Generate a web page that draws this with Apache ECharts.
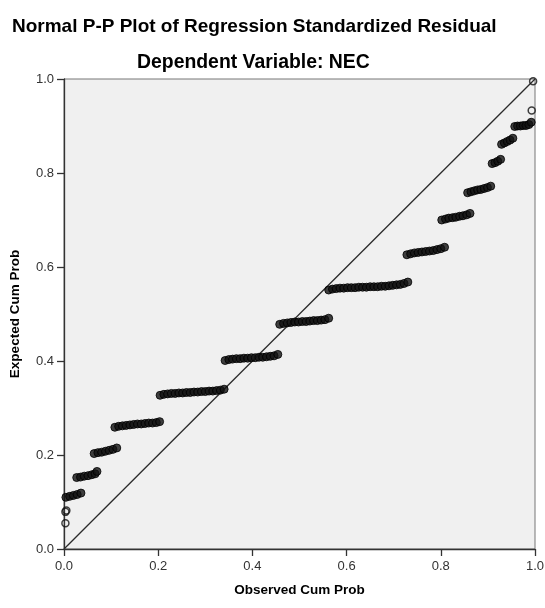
<!DOCTYPE html>
<html>
<head>
<meta charset="utf-8">
<title>Normal P-P Plot</title>
<script src="https://cdn.jsdelivr.net/npm/echarts@6/dist/echarts.min.js"></script>
<style>
    html, body {margin: 0; padding: 0; background: #ffffff;}
    #ppPlot {width: 545px; height: 608px;}
</style>
</head>
<body>
<div id="ppPlot"></div>
<script>
// tick labels on both axes
var tickValues = [0.0, 0.2, 0.4, 0.6, 0.8, 1.0];
// reference diagonal
var diagonal = [[0, 0], [1, 1]];
// single, clearly separate (hollow looking) points
var loosePoints = [[0.003, 0.055], [0.003, 0.079], [0.005, 0.082], [0.993, 0.933], [0.996, 0.995]];
// dense runs of points, [observed, expected]
var run1 = [[0.004, 0.110], [0.012, 0.112], [0.020, 0.114], [0.028, 0.116], [0.036, 0.119]];
var run2 = [[0.027, 0.152], [0.035, 0.153], [0.043, 0.155], [0.051, 0.156], [0.059, 0.158], [0.066, 0.160], [0.070, 0.165]];
var run3 = [[0.064, 0.203], [0.072, 0.205], [0.080, 0.206], [0.088, 0.208], [0.096, 0.210], [0.104, 0.212], [0.112, 0.215]];
var run4 = [[0.108, 0.259], [0.116, 0.261], [0.124, 0.262], [0.132, 0.263], [0.140, 0.264], [0.148, 0.265], [0.156, 0.266],
    [0.164, 0.266], [0.172, 0.267], [0.180, 0.268], [0.188, 0.268], [0.196, 0.269], [0.203, 0.271]];
var run5 = [[0.204, 0.327], [0.212, 0.329], [0.220, 0.330], [0.228, 0.331], [0.236, 0.331], [0.244, 0.332], [0.252, 0.332],
    [0.260, 0.333], [0.268, 0.333], [0.276, 0.334], [0.284, 0.334], [0.292, 0.335], [0.300, 0.335], [0.308, 0.336],
    [0.316, 0.336], [0.324, 0.337], [0.332, 0.338], [0.340, 0.340]];
var run6 = [[0.342, 0.401], [0.350, 0.403], [0.358, 0.404], [0.366, 0.405], [0.374, 0.405], [0.382, 0.406], [0.390, 0.406],
    [0.398, 0.407], [0.406, 0.407], [0.414, 0.408], [0.422, 0.408], [0.430, 0.409], [0.438, 0.410], [0.446, 0.411], [0.454, 0.414]];
var run7 = [[0.458, 0.478], [0.466, 0.480], [0.474, 0.481], [0.482, 0.482], [0.490, 0.483], [0.498, 0.483], [0.506, 0.484],
    [0.514, 0.484], [0.522, 0.485], [0.530, 0.486], [0.538, 0.486], [0.546, 0.487], [0.554, 0.488], [0.562, 0.491]];
var run8 = [[0.562, 0.551], [0.570, 0.553], [0.578, 0.554], [0.586, 0.555], [0.594, 0.555], [0.602, 0.556], [0.610, 0.556],
    [0.618, 0.556], [0.626, 0.557], [0.634, 0.557], [0.642, 0.557], [0.650, 0.558], [0.658, 0.558], [0.666, 0.558],
    [0.674, 0.559], [0.682, 0.559], [0.690, 0.560], [0.698, 0.561], [0.706, 0.562], [0.714, 0.563], [0.722, 0.565], [0.730, 0.568]];
var run9 = [[0.728, 0.626], [0.736, 0.628], [0.744, 0.630], [0.752, 0.631], [0.760, 0.632], [0.768, 0.633], [0.776, 0.634],
    [0.784, 0.635], [0.792, 0.637], [0.800, 0.639], [0.808, 0.642]];
var run10 = [[0.802, 0.700], [0.810, 0.702], [0.817, 0.704], [0.825, 0.705], [0.832, 0.706], [0.840, 0.708], [0.847, 0.709],
    [0.855, 0.711], [0.862, 0.714]];
var run11 = [[0.857, 0.758], [0.864, 0.760], [0.871, 0.762], [0.878, 0.764], [0.885, 0.765], [0.892, 0.767], [0.899, 0.769], [0.906, 0.772]];
var run12 = [[0.909, 0.820], [0.915, 0.822], [0.921, 0.825], [0.927, 0.829]];
var run13 = [[0.929, 0.861], [0.935, 0.864], [0.941, 0.867], [0.947, 0.870], [0.953, 0.874]];
var run14 = [[0.957, 0.899], [0.963, 0.900], [0.969, 0.900], [0.975, 0.901], [0.981, 0.901], [0.987, 0.903], [0.992, 0.908]];

var denseRuns = [run1, run2, run3, run4, run5, run6, run7, run8, run9, run10, run11, run12, run13, run14];

PPPlot = {
    chart: null,
    font: '"Liberation Sans", Arial, sans-serif'
};

PPPlot.axis = function (name, gap, labelMargin) {
    return {
        type: 'value',
        min: 0,
        max: 1,
        interval: 0.2,
        name: name,
        nameLocation: 'middle',
        nameGap: gap,
        nameTextStyle: {color: '#000', fontSize: 13.5, fontWeight: 'bold', fontFamily: PPPlot.font},
        axisLine: {show: true, lineStyle: {color: '#333', width: 1.3}},
        axisTick: {show: true, length: 7, lineStyle: {color: '#333', width: 1.3}},
        axisLabel: {
            color: '#333', fontSize: 13, fontFamily: PPPlot.font, margin: labelMargin,
            formatter: function (v) {
                return tickValues.indexOf(Math.round(v * 10) / 10) >= 0 ? v.toFixed(1) : '';
            }
        },
        splitLine: {show: false}
    };
};

PPPlot.init = function () {
    PPPlot.chart = echarts.init(document.getElementById('ppPlot'), null, {renderer: 'canvas'});
    var series = [{
        type: 'line',
        data: diagonal,
        symbol: 'none',
        silent: true,
        lineStyle: {color: '#2b2b2b', width: 1.3},
        z: 1
    }];
    denseRuns.forEach(function (run) {
        series.push({
            type: 'scatter',
            data: run,
            symbol: 'circle',
            symbolSize: 8,
            itemStyle: {color: '#111', borderColor: '#000', borderWidth: 1},
            z: 3
        });
    });
    series.push({
        type: 'scatter',
        data: loosePoints,
        symbol: 'circle',
        symbolSize: 7,
        itemStyle: {color: 'rgba(0,0,0,0)', borderColor: '#111', borderWidth: 1.5},
        z: 3
    });
    var option = {
        backgroundColor: '#ffffff',
        animation: false,
        title: [{
            text: 'Normal P-P Plot of Regression Standardized Residual',
            left: 7,
            top: 12,
            textStyle: {color: '#000', fontSize: 19, fontWeight: 'bold', fontFamily: PPPlot.font}
        }, {
            text: 'Dependent Variable: NEC',
            left: 132,
            top: 48,
            textStyle: {color: '#000', fontSize: 19.4, fontWeight: 'bold', fontFamily: PPPlot.font}
        }],
        grid: {
            left: 64,
            right: 10,
            top: 79,
            bottom: 59,
            outerBoundsMode: 'none',
            containLabel: false,
            show: true,
            backgroundColor: '#f0f0f0',
            borderColor: '#777',
            borderWidth: 1
        },
        xAxis: PPPlot.axis('Observed Cum Prob', 34, 11),
        yAxis: PPPlot.axis('Expected Cum Prob', 42, 10),
        series: series
    };
    PPPlot.chart.setOption(option);
};

PPPlot.init();
</script>
</body>
</html>
